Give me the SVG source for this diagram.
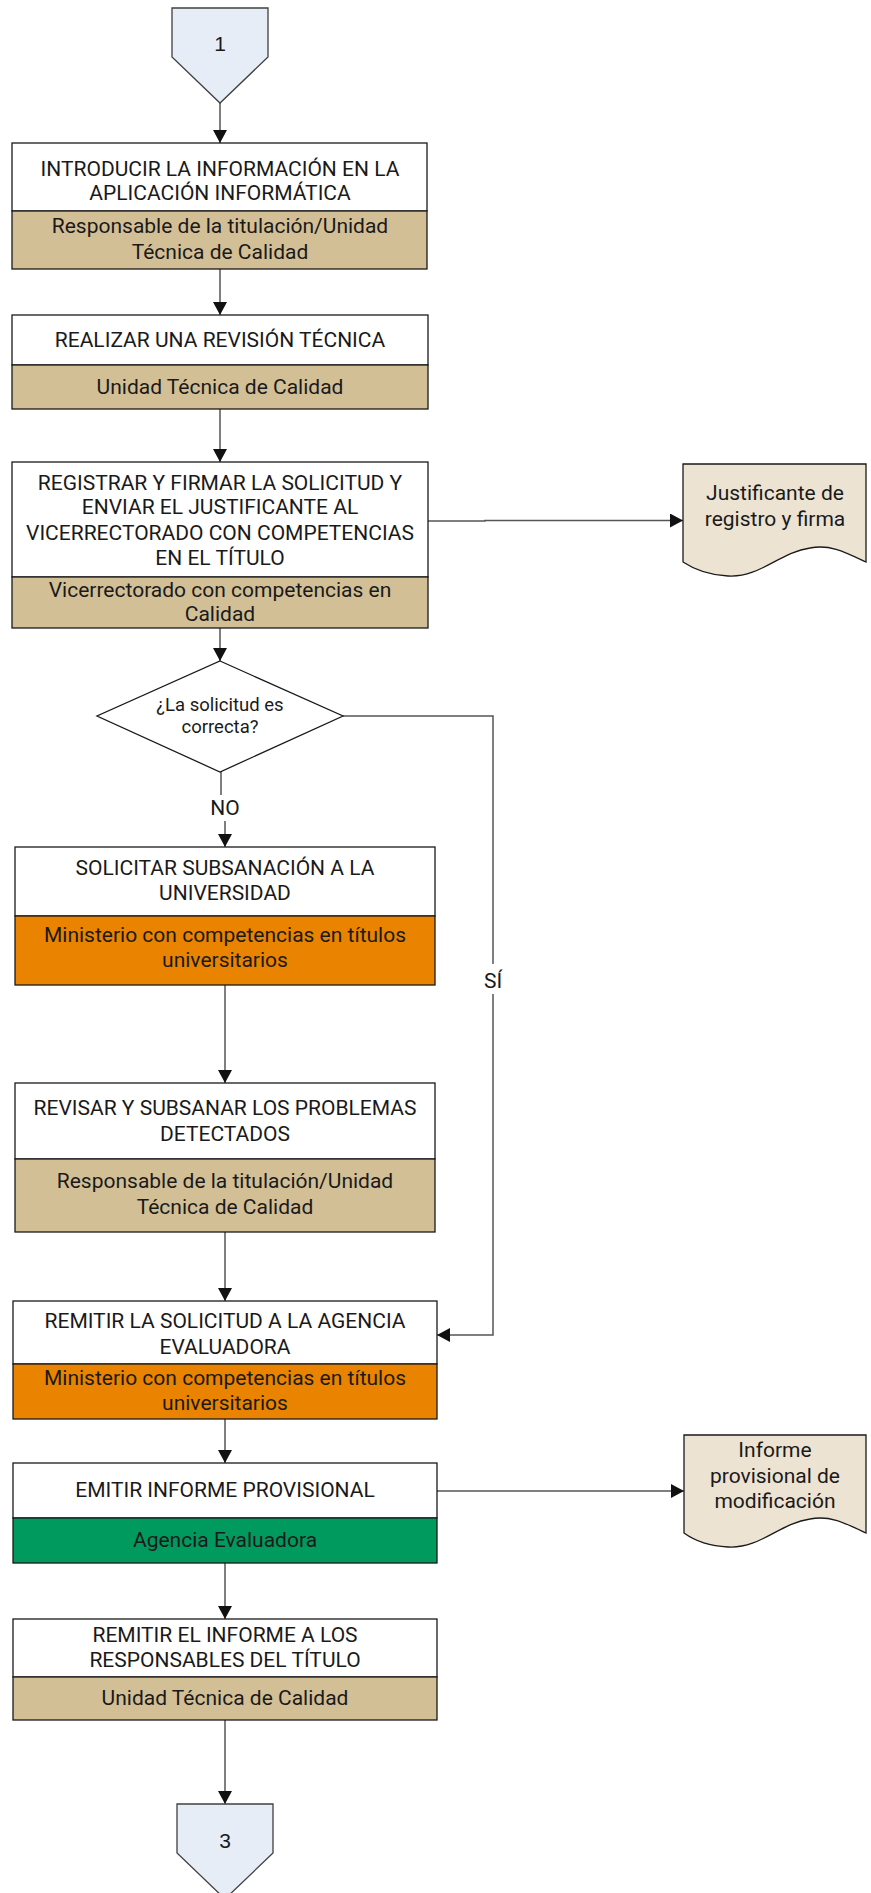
<svg xmlns="http://www.w3.org/2000/svg" width="871" height="1893" viewBox="0 0 871 1893">
<style>
.box{fill:#fff;stroke:#1a1a1a;stroke-width:1.3}
.tan{fill:#D3BF96;stroke:#1a1a1a;stroke-width:1.3}
.org{fill:#E98300;stroke:#1a1a1a;stroke-width:1.3}
.grn{fill:#00995E;stroke:#1a1a1a;stroke-width:1.3}
.doc{fill:#EDE3D3;stroke:#1a1a1a;stroke-width:1.3}
.pent{fill:#E6EDF7;stroke:#404040;stroke-width:1.3}
.dia{fill:#fff;stroke:#1a1a1a;stroke-width:1.3}
.t{font-family:Roboto,"Liberation Sans",sans-serif;font-size:21px;fill:#1a1a1a;text-anchor:middle}
.s{font-family:Roboto,"Liberation Sans",sans-serif;font-size:18.5px;fill:#1a1a1a;text-anchor:middle}
.n{font-family:"Liberation Sans",Arial,sans-serif;font-size:21px;fill:#1a1a1a;text-anchor:middle}
.c{fill:none;stroke:#555;stroke-width:1.5}
</style>
<defs>
<marker id="ah" markerUnits="userSpaceOnUse" markerWidth="14" markerHeight="14" viewBox="0 0 14 14" refX="13" refY="7" orient="auto">
<path d="M0,0 L13,7 L0,14 Z" fill="#111"/>
</marker>
</defs>

<g id="connectors">
<path class="c" d="M220,103 V143" marker-end="url(#ah)"/>
<path class="c" d="M220,269 V315" marker-end="url(#ah)"/>
<path class="c" d="M220,409 V462" marker-end="url(#ah)"/>
<path class="c" d="M428,521 H485 V520.5 H683" marker-end="url(#ah)"/>
<path class="c" d="M220,628 V661" marker-end="url(#ah)"/>
<path class="c" d="M221,772 V795"/>
<path class="c" d="M225,821 V847" marker-end="url(#ah)"/>
<path class="c" d="M343,716 H493 V1335 H437" marker-end="url(#ah)"/>
<path class="c" d="M225,985 V1083" marker-end="url(#ah)"/>
<path class="c" d="M225,1232 V1301" marker-end="url(#ah)"/>
<path class="c" d="M225,1419 V1463" marker-end="url(#ah)"/>
<path class="c" d="M437,1491 H684" marker-end="url(#ah)"/>
<path class="c" d="M225,1563 V1619" marker-end="url(#ah)"/>
<path class="c" d="M225,1720 V1804" marker-end="url(#ah)"/>
<text class="t" x="225" y="815">NO</text>
<rect x="481" y="964" width="24" height="30" fill="#fff"/>
<text class="t" x="493" y="988">SÍ</text>
</g>

<g id="start1">
<path class="pent" d="M172,8 H268 V57 L220,103 L172,57 Z"/>
<text class="n" x="220" y="51">1</text>
</g>

<g id="box1">
<rect class="box" x="12" y="143" width="415" height="68"/>
<rect class="tan" x="12" y="211" width="415" height="58"/>
<text class="t" x="220" y="176">INTRODUCIR LA INFORMACIÓN EN LA</text>
<text class="t" x="220" y="200">APLICACIÓN INFORMÁTICA</text>
<text class="t" x="220" y="233">Responsable de la titulación/Unidad</text>
<text class="t" x="220" y="259">Técnica de Calidad</text>
</g>

<g id="box2">
<rect class="box" x="12" y="315" width="416" height="50"/>
<rect class="tan" x="12" y="365" width="416" height="44"/>
<text class="t" x="220" y="347">REALIZAR UNA REVISIÓN TÉCNICA</text>
<text class="t" x="220" y="394">Unidad Técnica de Calidad</text>
</g>

<g id="box3">
<rect class="box" x="12" y="462" width="416" height="115"/>
<rect class="tan" x="12" y="577" width="416" height="51"/>
<text class="t" x="220" y="490">REGISTRAR Y FIRMAR LA SOLICITUD Y</text>
<text class="t" x="220" y="514">ENVIAR EL JUSTIFICANTE AL</text>
<text class="t" x="220" y="540">VICERRECTORADO CON COMPETENCIAS</text>
<text class="t" x="220" y="565">EN EL TÍTULO</text>
<text class="t" x="220" y="597">Vicerrectorado con competencias en</text>
<text class="t" x="220" y="621">Calidad</text>
</g>

<g id="doc1">
<path class="doc" d="M683,464 H866 V562 C845,552 830,544 810,548 C780,552 760,578 728,576 C708,575 695,570 683,562 Z"/>
<text class="t" x="775" y="500">Justificante de</text>
<text class="t" x="775" y="526">registro y firma</text>
</g>

<g id="decision">
<path class="dia" d="M220,661 L343,716 L220,772 L97,716 Z"/>
<text class="s" x="220" y="711">¿La solicitud es</text>
<text class="s" x="220" y="733">correcta?</text>
</g>

<g id="box4">
<rect class="box" x="15" y="847" width="420" height="69"/>
<rect class="org" x="15" y="916" width="420" height="69"/>
<text class="t" x="225" y="875">SOLICITAR SUBSANACIÓN A LA</text>
<text class="t" x="225" y="900">UNIVERSIDAD</text>
<text class="t" x="225" y="942">Ministerio con competencias en títulos</text>
<text class="t" x="225" y="967">universitarios</text>
</g>

<g id="box5">
<rect class="box" x="15" y="1083" width="420" height="76"/>
<rect class="tan" x="15" y="1159" width="420" height="73"/>
<text class="t" x="225" y="1115">REVISAR Y SUBSANAR LOS PROBLEMAS</text>
<text class="t" x="225" y="1141">DETECTADOS</text>
<text class="t" x="225" y="1188">Responsable de la titulación/Unidad</text>
<text class="t" x="225" y="1214">Técnica de Calidad</text>
</g>

<g id="box6">
<rect class="box" x="13" y="1301" width="424" height="63"/>
<rect class="org" x="13" y="1364" width="424" height="55"/>
<text class="t" x="225" y="1328">REMITIR LA SOLICITUD A LA AGENCIA</text>
<text class="t" x="225" y="1354">EVALUADORA</text>
<text class="t" x="225" y="1385">Ministerio con competencias en títulos</text>
<text class="t" x="225" y="1410">universitarios</text>
</g>

<g id="box7">
<rect class="box" x="13" y="1463" width="424" height="55"/>
<rect class="grn" x="13" y="1518" width="424" height="45"/>
<text class="t" x="225" y="1497">EMITIR INFORME PROVISIONAL</text>
<text class="t" x="225" y="1547">Agencia Evaluadora</text>
</g>

<g id="doc2">
<path class="doc" d="M684,1435 H866 V1533 C845,1523 830,1515 810,1519 C780,1523 760,1549 728,1547 C708,1546 695,1541 684,1533 Z"/>
<text class="t" x="775" y="1457">Informe</text>
<text class="t" x="775" y="1483">provisional de</text>
<text class="t" x="775" y="1508">modificación</text>
</g>

<g id="box8">
<rect class="box" x="13" y="1619" width="424" height="58"/>
<rect class="tan" x="13" y="1677" width="424" height="43"/>
<text class="t" x="225" y="1642">REMITIR EL INFORME A LOS</text>
<text class="t" x="225" y="1667">RESPONSABLES DEL TÍTULO</text>
<text class="t" x="225" y="1705">Unidad Técnica de Calidad</text>
</g>

<g id="end3">
<path class="pent" d="M177,1804 H273 V1853 L225,1899 L177,1853 Z"/>
<text class="n" x="225" y="1848">3</text>
</g>
</svg>
